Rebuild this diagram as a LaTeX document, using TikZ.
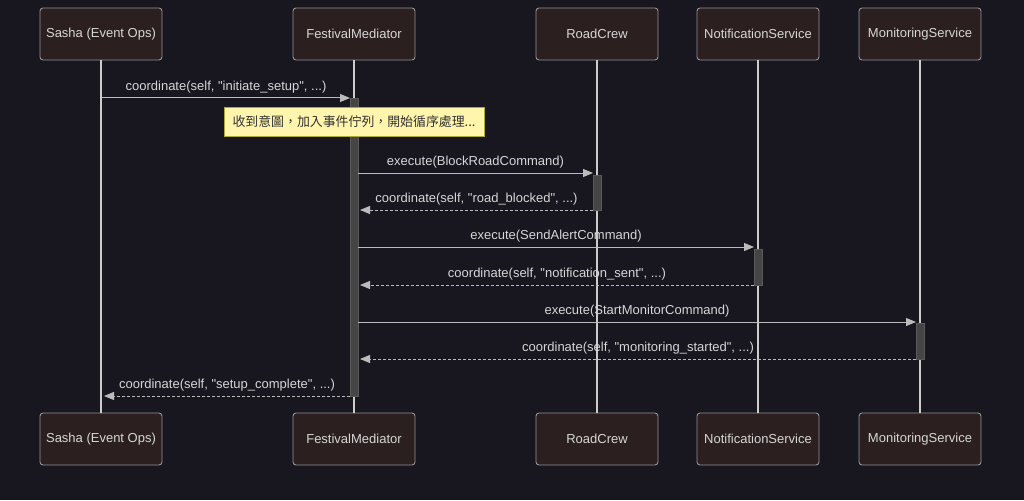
\documentclass[tikz,border=0pt]{standalone}
\usepackage{fontspec}
\setmainfont{Liberation Sans}[Ligatures=TeXOff]
\newfontfamily\cjkfont{Noto Sans CJK TC}
\usetikzlibrary{arrows.meta}

\definecolor{bgdark}{HTML}{18161F}
\definecolor{actorfill}{HTML}{2B201F}
\definecolor{actorline}{HTML}{949494}
\definecolor{lighttext}{HTML}{D6D6D6}
\definecolor{lifegray}{HTML}{CCCCCC}
\definecolor{msggray}{HTML}{BBBBBB}
\definecolor{actfill}{HTML}{454545}
\definecolor{actline}{HTML}{5A5A5A}
\definecolor{notefill}{HTML}{FFF5AD}
\definecolor{noteline}{HTML}{AAAA33}

\begin{document}
\begin{tikzpicture}[x=1pt, y=-1pt,
    actor/.style={draw=actorline, fill=actorfill, rounded corners=3pt, line width=0.9pt,
      minimum width=122pt, minimum height=52pt, text=lighttext,
      font=\fontsize{13}{15}\selectfont},
    life/.style={draw=lifegray, line width=1.3pt},
    actbar/.style={fill=actfill, draw=actline, line width=0.6pt},
    call/.style={draw=msggray, line width=1pt, -{Triangle[length=10pt, width=8pt]}},
    reply/.style={call, dash pattern=on 3pt off 2pt},
    msglabel/.style={above=3.5pt, inner sep=1pt, text=lighttext,
      font=\fontsize{13}{15}\selectfont},
    note/.style={draw=noteline, fill=notefill, line width=0.8pt, minimum width=260pt,
      minimum height=29pt, text=black!80, font=\cjkfont\fontsize{12.9}{15}\selectfont}]

  \fill[bgdark] (0,0) rectangle (1024,500);
  \useasboundingbox (0,0) rectangle (1024,500);

  % participants, top and bottom
  \node[actor] (sashaT) at (101,34) {Sasha (Event Ops)};
  \node[actor] (medT) at (354,34) {FestivalMediator};
  \node[actor] (roadT) at (597,34) {RoadCrew};
  \node[actor] (notifT) at (758,34) {NotificationService};
  \node[actor] (monT) at (920,34) {MonitoringService};

  \node[actor] (sashaB) at (101,439) {Sasha (Event Ops)};
  \node[actor] (medB) at (354,439) {FestivalMediator};
  \node[actor] (roadB) at (597,439) {RoadCrew};
  \node[actor] (notifB) at (758,439) {NotificationService};
  \node[actor] (monB) at (920,439) {MonitoringService};

  \draw[life] (sashaT.south) -- (sashaB.north);
  \draw[life] (medT.south) -- (medB.north);
  \draw[life] (roadT.south) -- (roadB.north);
  \draw[life] (notifT.south) -- (notifB.north);
  \draw[life] (monT.south) -- (monB.north);

  % activations
  \draw[actbar] (350,98) rectangle (358,396);
  \draw[actbar] (593,175) rectangle (601,210);
  \draw[actbar] (754,249) rectangle (762,285);
  \draw[actbar] (916,323) rectangle (924,359);

  % message end points
  \coordinate (m1a) at (102,98);   \coordinate (m1b) at (350,98);
  \coordinate (m2a) at (358,173);  \coordinate (m2b) at (593,173);
  \coordinate (m3a) at (593,210);  \coordinate (m3b) at (360,210);
  \coordinate (m4a) at (358,247);  \coordinate (m4b) at (754,247);
  \coordinate (m5a) at (754,285);  \coordinate (m5b) at (360,285);
  \coordinate (m6a) at (358,322);  \coordinate (m6b) at (916,322);
  \coordinate (m7a) at (916,359);  \coordinate (m7b) at (360,359);
  \coordinate (m8a) at (350,396);  \coordinate (m8b) at (104,396);

  \draw[call] (m1a) -- node[msglabel] {coordinate(self, "initiate\_setup", ...)} (m1b);
  \draw[call] (m2a) -- node[msglabel] {execute(BlockRoadCommand)} (m2b);
  \draw[reply] (m3a) -- node[msglabel] {coordinate(self, "road\_blocked", ...)} (m3b);
  \draw[call] (m4a) -- node[msglabel] {execute(SendAlertCommand)} (m4b);
  \draw[reply] (m5a) -- node[msglabel] {coordinate(self, "notification\_sent", ...)} (m5b);
  \draw[call] (m6a) -- node[msglabel] {execute(StartMonitorCommand)} (m6b);
  \draw[reply] (m7a) -- node[msglabel] {coordinate(self, "monitoring\_started", ...)} (m7b);
  \draw[reply] (m8a) -- node[msglabel] {coordinate(self, "setup\_complete", ...)} (m8b);

  % note over the mediator
  \node[note] (intent) at (354,121.5) {收到意圖，加入事件佇列，開始循序處理...};
\end{tikzpicture}
\end{document}
